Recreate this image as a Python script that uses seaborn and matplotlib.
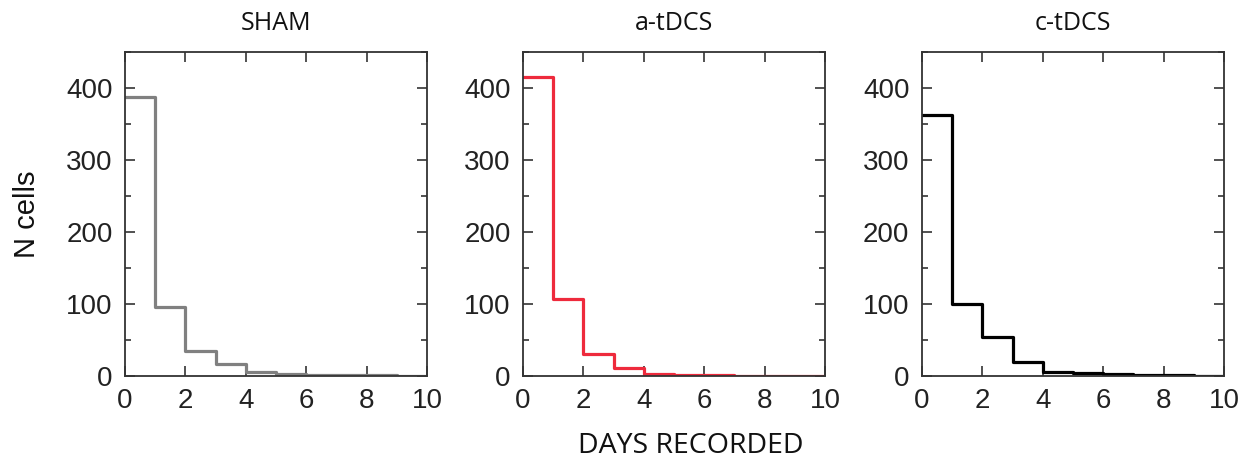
import matplotlib
matplotlib.use("Agg")
import matplotlib.pyplot as plt
import seaborn as sns
import numpy as np
import pandas as pd
from matplotlib.ticker import MultipleLocator

days = [0, 1, 2, 3, 4, 5, 6, 7, 8, 9]
sham = [388, 96, 35, 17, 5.5, 3, 1.2, 1, 1, 0.5]
atdcs = [415, 107, 30, 11, 3, 1.5, 1.5, 0.5, 0.5, 0.5]
ctdcs = [362, 100, 54, 20, 5.5, 4, 3, 1.5, 1.5, 0]
titles = ["SHAM", "a-tDCS", "c-tDCS"]
colors = ["#808080", "#ee2a3c", "#000000"]
series = [sham, atdcs, ctdcs]

sns.set_style("ticks")
fig = plt.figure(figsize=(12.53, 4.67), dpi=100)
lefts = [125, 523, 922]
for i, (title, col, vals) in enumerate(zip(titles, colors, series)):
    ax = fig.add_axes([lefts[i] / 1253, 1 - 376 / 467, 302 / 1253, 324 / 467])
    df = pd.DataFrame({"day": [d + 0.5 for d in days], "n": vals})
    sns.histplot(data=df, x="day", weights="n", bins=10, binrange=(0, 10),
                 element="step", fill=False, color=col, linewidth=2.3, ax=ax)
    ax.set_xlim(0, 10)
    ax.set_ylim(0, 450)
    ax.set_xticks(range(0, 11, 2))
    ax.set_yticks(range(0, 401, 100))
    ax.yaxis.set_minor_locator(MultipleLocator(50))
    ax.tick_params(which="both", direction="in", top=True, right=True,
                   labelsize=20, colors="#333333", labelcolor="#222222", width=1.2)
    ax.tick_params(which="major", length=7, pad=9)
    ax.tick_params(which="minor", length=4)
    for s in ax.spines.values():
        s.set_visible(True)
        s.set_linewidth(1.3)
        s.set_color("#333333")
    ax.set_ylabel("")
    ax.set_xlabel("")
    for lab in ax.get_xticklabels() + ax.get_yticklabels():
        lab.set_fontfamily("Liberation Sans")
    ax.set_title(title, fontsize=18, fontfamily="Open Sans", pad=16, color="#111111")
    if i == 0:
        ax.set_ylabel("N cells", fontsize=21, fontfamily="Liberation Sans", labelpad=18,
                      color="#111111")

fig.text(0.551, 0.015, "DAYS RECORDED", ha="center", va="bottom", fontsize=20.5,
         fontfamily="Open Sans", color="#111111")
fig.savefig("out.png", dpi=100, facecolor="white")
